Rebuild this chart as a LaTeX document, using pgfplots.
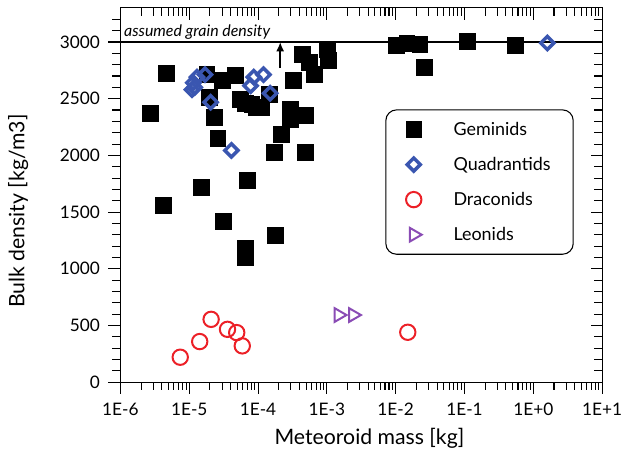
\documentclass[border=0pt]{standalone}
\usepackage{fontspec}
\setmainfont{Lato}
\usepackage{pgfplots}
\pgfplotsset{compat=1.18}
\usetikzlibrary{arrows.meta}

\definecolor{quadblue}{HTML}{3A56B0}
\definecolor{drared}{HTML}{EC2027}
\definecolor{leopurple}{HTML}{8A4CB5}

% Geminids
\pgfplotstableread{
m rho
2.7e-6 2375
4.7e-6 2724
4.2e-6 1557
1.8e-5 2718
3.0e-5 2660
4.7e-5 2710
1.95e-5 2513
2.3e-5 2337
2.6e-5 2147
5.6e-5 2498
6.5e-5 2460
8.1e-5 2454
9.5e-5 2420
1.1e-4 2425
1.45e-4 2542
2.2e-4 2190
2.95e-4 2410
3.3e-4 2660
2.95e-4 2322
4.9e-4 2352
1.7e-4 2030
4.9e-4 2030
4.4e-4 2894
5.5e-4 2821
6.5e-4 2718
1.0e-3 2938
1.05e-3 2835
1.5e-5 1721
6.9e-5 1780
3.1e-5 1416
6.6e-5 1180
6.6e-5 1100
1.8e-4 1296
1.02e-2 2967
1.45e-2 2991
2.24e-2 2982
2.6e-2 2777
1.1e-1 3003
5.4e-1 2974
}\gem

% Quadrantids
\pgfplotstableread{
m rho
1.1e-5 2580
1.15e-5 2640
1.3e-5 2690
1.2e-5 2600
1.7e-5 2712
2.05e-5 2469
4.1e-5 2044
7.8e-5 2615
8.7e-5 2690
1.2e-4 2712
1.5e-4 2548
1.6 2991
}\quad

% Draconids
\pgfplotstableread{
m rho
7.4e-6 220
1.42e-5 358
2.08e-5 554
3.6e-5 466
4.9e-5 437
5.9e-5 320
1.5e-2 440
}\dra

% Leonids
\pgfplotstableread{
m rho
1.48e-3 592
2.4e-3 592
}\leo

\tikzset{tk/.style={line width=0.8pt, black}}

\begin{document}
\begin{tikzpicture}
\begin{axis}[
    at={(0,0)}, anchor=south west,
    scale only axis, width=363pt, height=282pt,
    xmode=log, xmin=1e-6, xmax=10, ymin=0, ymax=3300,
    clip=false,
    xtick={1e-6,1e-5,1e-4,1e-3,1e-2,1e-1,1,10},
    ytick={0,500,1000,1500,2000,2500,3000},
    minor xtick={}, minor ytick={},
    major tick length=0pt, minor tick length=0pt,
    axis line style={line width=0.8pt},
    xticklabels={1E-6,1E-5,1E-4,1E-3,1E-2,1E-1,1E+0,1E+1},
    scaled y ticks=false,
    yticklabel style={/pgf/number format/1000 sep={}},
    /pgf/number format/assume math mode=true,
    tick label style={font=\fontsize{13}{16}\selectfont},
    xticklabel style={yshift=-12pt},
    yticklabel style={xshift=-12pt},
    xlabel={Meteoroid mass [kg]},
    ylabel={Bulk density [kg/m3]},
    label style={font=\fontsize{16}{19}\selectfont},
    xlabel style={at={(axis description cs:0.517,0)}, anchor=center, yshift=-42pt},
    ylabel style={at={(axis description cs:-0.212,0.457)}, anchor=center},
    legend style={at={(0.55,0.729)}, anchor=north west, draw=black,
        line width=0.8pt, rounded corners=8pt,
        font=\fontsize{13.5}{16}\selectfont, row sep=11pt,
        inner xsep=15pt, inner ysep=7pt,
        /tikz/every odd column/.append style={column sep=22pt}},
    legend image post style={sharp corners},
    legend cell align=left,
]
% ticks: bottom and left point out, top and right point in
\pgfplotsinvokeforeach{1e-6,1e-5,1e-4,1e-3,1e-2,1e-1,1,10}{
    \draw[tk] (axis cs:#1,0) -- ++(0pt,-9pt);
    \draw[tk] (axis cs:#1,3300) -- ++(0pt,-9pt);
}
\pgfplotsinvokeforeach{2e-6,3e-6,4e-6,5e-6,6e-6,7e-6,8e-6,9e-6,
                 2e-5,3e-5,4e-5,5e-5,6e-5,7e-5,8e-5,9e-5,
                 2e-4,3e-4,4e-4,5e-4,6e-4,7e-4,8e-4,9e-4,
                 2e-3,3e-3,4e-3,5e-3,6e-3,7e-3,8e-3,9e-3,
                 2e-2,3e-2,4e-2,5e-2,6e-2,7e-2,8e-2,9e-2,
                 2e-1,3e-1,4e-1,5e-1,6e-1,7e-1,8e-1,9e-1,
                 2,3,4,5,6,7,8,9}{
    \draw[tk] (axis cs:#1,0) -- ++(0pt,-6pt);
    \draw[tk] (axis cs:#1,3300) -- ++(0pt,-6pt);
}
\pgfplotsinvokeforeach{0,500,1000,1500,2000,2500,3000}{
    \draw[tk] (axis cs:1e-6,#1) -- ++(-9pt,0pt);
    \draw[tk] (axis cs:10,#1) -- ++(-8pt,0pt);
}
\pgfplotsinvokeforeach{100,200,300,400,600,700,800,900,1100,1200,1300,1400,
                 1600,1700,1800,1900,2100,2200,2300,2400,2600,2700,2800,2900,3100,3200}{
    \draw[tk] (axis cs:1e-6,#1) -- ++(-6pt,0pt);
    \draw[tk] (axis cs:10,#1) -- ++(-6pt,0pt);
}

\draw[line width=0.8pt] (axis cs:1e-6,3000) -- (axis cs:10,3000);

\addplot[only marks, mark=square*, mark size=6pt, black,
    mark options={line width=0.4pt, sharp corners}]
    table[x=m, y=rho] {\gem};
\addlegendentry{Geminids}
\addplot[only marks, mark=square, mark size=3.5pt, quadblue,
    mark options={line width=2.6pt, rotate=45, sharp corners}]
    table[x=m, y=rho] {\quad};
\addlegendentry{Quadrantids}
\addplot[only marks, mark=o, mark size=5.8pt, drared,
    mark options={line width=1.5pt}]
    table[x=m, y=rho] {\dra};
\addlegendentry{Draconids}
\addplot[only marks, mark=triangle, mark size=6pt, leopurple,
    mark options={line width=1.5pt, rotate=-90, sharp corners}]
    table[x=m, y=rho] {\leo};
\addlegendentry{Leonids}

\node[anchor=south west, inner sep=1.5pt, font=\fontsize{12}{14}\selectfont\itshape]
    at (axis cs:1.05e-6,3000) {assumed grain density};
\draw[-{Latex[length=7pt,width=6pt]}, line width=1.5pt]
    (axis cs:2.1e-4,2770) -- (axis cs:2.1e-4,3000);
\end{axis}
\pgfresetboundingbox
\path (-90.75pt,-57.75pt) rectangle (378pt,288pt);
\end{tikzpicture}
\end{document}
